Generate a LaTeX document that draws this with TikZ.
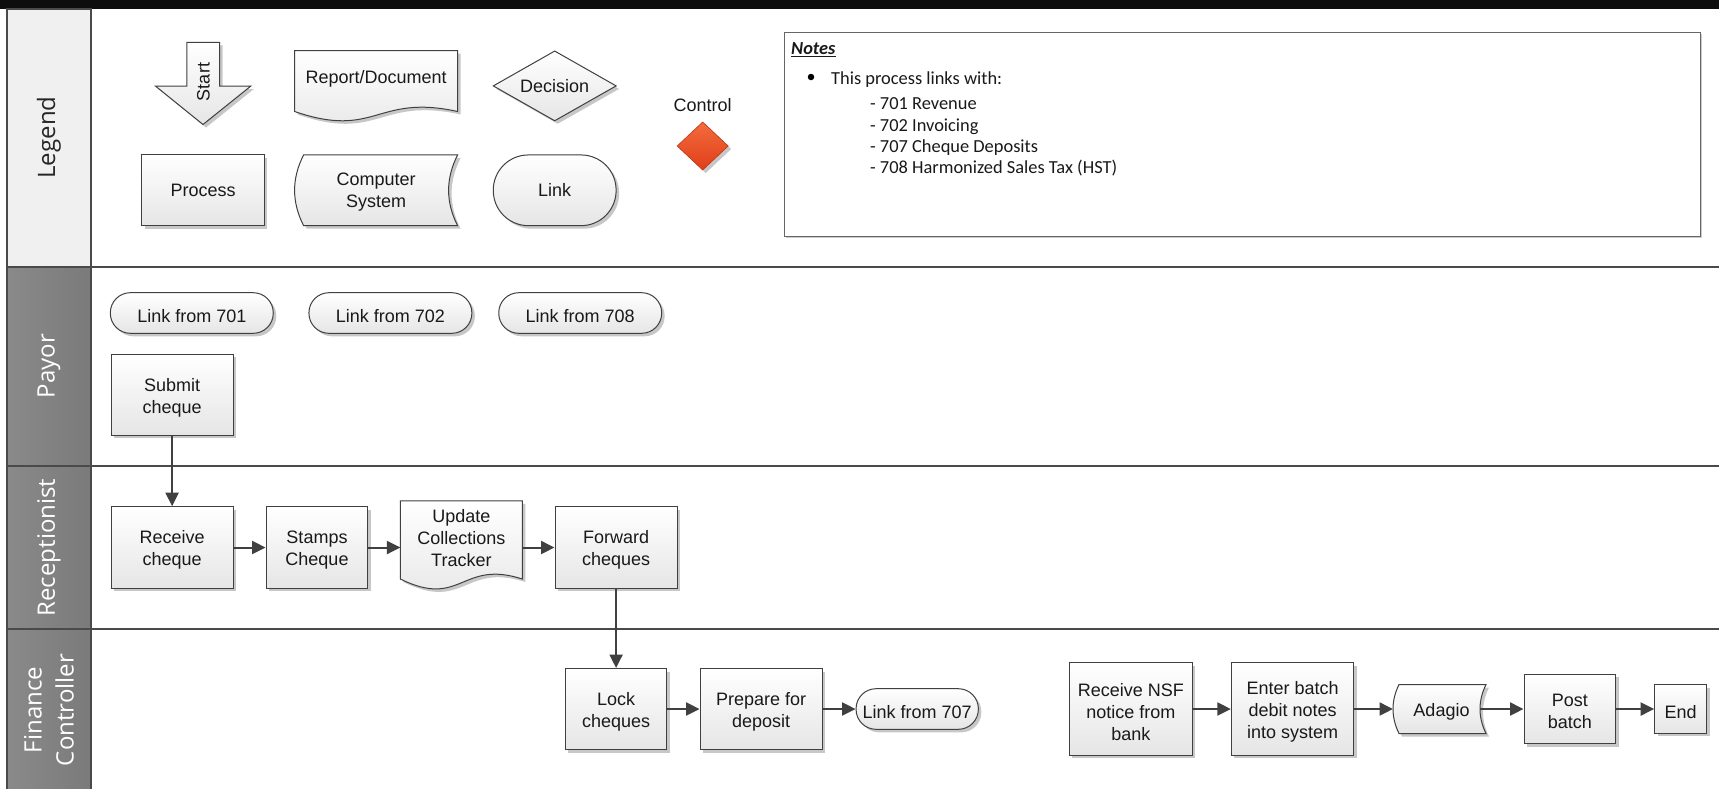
\documentclass[tikz,border=0pt]{standalone}
\usepackage{fontspec}
\setmainfont{Liberation Sans}
\newfontfamily\lanefont{Open Sans}
\newfontfamily\notefont{Carlito}
\usetikzlibrary{arrows.meta,shadows,calc}

\definecolor{edgegray}{HTML}{404040}
\definecolor{lanegray}{HTML}{4A4A4A}
\definecolor{hdrlight}{HTML}{F0F0F0}
\definecolor{ctrltop}{HTML}{F36C3D}
\definecolor{ctrlbot}{HTML}{E03E1A}

% wavy-bottom document outline around a named ghost node
\newcommand\docoutline[3]{%
  \path[shapefill] (#1.north west) -- (#1.north east) -- (#1.south east)
    .. controls ($(#1.south)+(0,-#2)$) and ($(#1.south)+(0,#3)$) .. (#1.south west) -- cycle;}
% stored-data outline: left side bulges out, right side curves in
\newcommand\storedoutline[3]{%
  \path[shapefill] ($(#1.north west)+(#2,0)$) -- (#1.north east)
    .. controls +({-4/3*#2},#3) and +({-4/3*#2},-#3) .. (#1.south east)
    -- ($(#1.south west)+(#2,0)$)
    .. controls +({-4/3*#2},-#3) and +({-4/3*#2},#3) .. ($(#1.north west)+(#2,0)$) -- cycle;}
% process-step box with its caption set slightly low, as in the flow lanes
% #1 style, #2 name, #3 x, #4 y, #5 width, #6 height, #7 caption
\newcommand\flowbox[7]{%
  \node[#1, minimum width=#5pt, minimum height=#6pt] (#2) at (#3,#4) {};
  \node[boxtext] (#2txt) at ($(#2)+(0,2.8)$) {#7};}

\begin{document}
\begin{tikzpicture}[x=1pt,y=-1pt,
  shapefill/.style={draw=edgegray, line width=1pt, top color=white, bottom color=black!10,
    drop shadow={shadow xshift=3pt,shadow yshift=-3pt,fill=black!22,opacity=1}},
  boxtext/.style={font=\fontsize{18}{22}\selectfont, align=center, text=black!90},
  proc/.style={shapefill, boxtext, inner sep=0pt},
  linkbox/.style={proc, rounded corners=20pt, minimum height=40.6pt},
  ghost/.style={inner sep=0pt, outer sep=0pt},
  flow/.style={draw=edgegray, line width=2pt, -{Triangle[length=13.5pt,width=13pt]}},
  lanetext/.style={font=\lanefont\fontsize{24}{32}\selectfont, rotate=90, align=center},
  notetext/.style={font=\notefont\fontsize{18.4}{21}\selectfont, anchor=base west, inner sep=0pt, text=black!90},
  hdrdark/.style={draw=lanegray, line width=2pt, left color=black!46, right color=black!52},
]
\useasboundingbox (0,0) rectangle (1719,788);
\fill[white] (0,0) rectangle (1719,788);
\fill[black!95] (0,0) rectangle (1719,8.5);

% swimlane headers and separators
\path[draw=lanegray, line width=2pt, fill=hdrlight] (7,8.5) rectangle (91,266.5);
\path[hdrdark] (7,266.5) rectangle (91,466);
\path[hdrdark] (7,466) rectangle (91,629);
\path[hdrdark] (7,629) rectangle (91,792);
\draw[lanegray, line width=2pt] (91,266.5) -- (1719,266.5);
\draw[lanegray, line width=2pt] (91,466) -- (1719,466);
\draw[lanegray, line width=2pt] (91,629) -- (1719,629);

\node[lanetext, text=black!85] (hlegend) at (49,137.5) {Legend};
\node[lanetext, text=white] (hpayor) at (49,366.2) {Payor};
\node[lanetext, text=white] (hrecep) at (49,547.5) {Receptionist};
\node[lanetext, text=white] (hfin) at (49,710) {Finance\\Controller};

% ---------- legend ----------
\path[shapefill] (186.8,42.3) -- (219.6,42.3) -- (219.6,86) -- (250.9,86) -- (203,124.5)
  -- (155.4,86) -- (186.8,86) -- cycle;
\node[boxtext, rotate=90] (lstart) at (203.4,82) {Start};

\node[ghost, minimum width=163pt, minimum height=60.8pt] (ldoc) at (376.1,81.1) {};
\docoutline{ldoc}{18}{28}
\node[boxtext] (ldoctxt) at (376.1,79) {Report/Document};

\node[ghost, minimum width=122.8pt, minimum height=69.7pt] (ldec) at (554.7,85.9) {};
\path[shapefill] (ldec.north) -- (ldec.east) -- (ldec.south) -- (ldec.west) -- cycle;
\node[boxtext] (ldectxt) at (ldec) {Decision};

\node[boxtext] (lctrltxt) at (702.7,105.5) {Control};
\node[ghost, minimum width=51pt, minimum height=48pt] (lctrl) at (702.7,146) {};
\path[draw=ctrlbot!85!black, line width=0.6pt, top color=ctrltop, bottom color=ctrlbot,
  drop shadow={shadow xshift=3pt,shadow yshift=-3pt,fill=black!22,opacity=1}]
  (lctrl.north) -- (lctrl.east) -- (lctrl.south) -- (lctrl.west) -- cycle;

\node[proc, minimum width=122.3pt, minimum height=70.7pt] (lproc) at (203.1,190.3) {Process};

\node[ghost, minimum width=163pt, minimum height=70.7pt] (lsys) at (376.1,190.3) {};
\storedoutline{lsys}{9}{23.5}
\node[boxtext] (lsystxt) at (376.1,192.3) {Computer\\System};

\node[proc, rounded corners=35pt, minimum width=122.8pt, minimum height=70.7pt] (llink) at (554.7,190.3) {Link};

% notes panel
\node[draw=black!60, line width=1.2pt, fill=white, minimum width=916pt, minimum height=204pt,
  inner sep=0pt, drop shadow={shadow xshift=1.5pt,shadow yshift=-1.5pt,fill=black!20,opacity=1}]
  (notes) at (1242.5,134.7) {};
\node[circle, fill=black, inner sep=0pt, minimum size=6.5pt] (bullet) at (811,77) {};
\node[notetext] (ntitle) at (791,54.5) {\underline{\textbf{\textit{Notes}}}};
\node[notetext] (nlead) at (831,84) {This process links with:};
\node[notetext] (n701) at (870,109.5) {- 701 Revenue};
\node[notetext] (n702) at (870,131) {- 702 Invoicing};
\node[notetext] (n707) at (870,152.4) {- 707 Cheque Deposits};
\node[notetext] (n708) at (870,173.8) {- 708 Harmonized Sales Tax (HST)};

% ---------- Payor ----------
\flowbox{linkbox}{l701}{191.8}{313}{162.9}{40.6}{Link from 701}
\flowbox{linkbox}{l702}{390.4}{313}{162.9}{40.6}{Link from 702}
\flowbox{linkbox}{l708}{580.2}{313}{162.9}{40.6}{Link from 708}
\flowbox{proc}{submit}{172.1}{394.7}{121.8}{80.7}{Submit\\cheque}

% ---------- Receptionist ----------
\flowbox{proc}{receive}{172.1}{547.5}{121.8}{81.6}{Receive\\cheque}
\flowbox{proc}{stamps}{317}{547.5}{101.9}{81.6}{Stamps\\Cheque}
\node[ghost, minimum width=121.9pt, minimum height=78.3pt] (update) at (461.4,539.9) {};
\docoutline{update}{20}{30}
\node[boxtext] (updtxt) at (461.4,538.5) {Update\\Collections\\Tracker};
\flowbox{proc}{forward}{616.1}{547.5}{122.2}{81.6}{Forward\\cheques}

% ---------- Finance Controller ----------
\flowbox{proc}{lock}{616.1}{709}{101.7}{81}{Lock\\cheques}
\flowbox{proc}{prepare}{761.2}{709}{122.3}{81}{Prepare for\\deposit}
\flowbox{linkbox}{l707}{917.2}{709}{122.3}{40.6}{Link from 707}
\flowbox{proc}{nsf}{1130.9}{709}{123}{92.7}{Receive NSF\\notice from\\bank}
\flowbox{proc}{enter}{1292.6}{709}{122.6}{92.7}{Enter batch\\debit notes\\into system}
\node[ghost, minimum width=93pt, minimum height=49pt] (adagio) at (1439.5,709) {};
\storedoutline{adagio}{6}{16.3}
\node[boxtext] (adagiotxt) at (1441.5,711.5) {Adagio};
\flowbox{proc}{post}{1569.9}{709}{91.8}{69.7}{Post\\batch}
\flowbox{proc}{finish}{1680.7}{709}{52}{48.3}{End}

% ---------- connectors ----------
\draw[flow] (submit.south) -- (receive.north);
\draw[flow] (receive.east) -- (stamps.west);
\draw[flow] (stamps.east) -- (stamps.east -| update.west);
\draw[flow] (update.east |- forward.west) -- (forward.west);
\draw[flow] (forward.south) -- (forward.south |- lock.north);
\draw[flow] (lock.east) -- (prepare.west);
\draw[flow] (prepare.east) -- (l707.west);
\draw[flow] (nsf.east) -- (enter.west);
\draw[flow] (enter.east) -- (adagio.west);
\draw[flow] ($(adagio.east)+(-6,0)$) -- (post.west);
\draw[flow] (post.east) -- (finish.west);
\end{tikzpicture}
\end{document}
